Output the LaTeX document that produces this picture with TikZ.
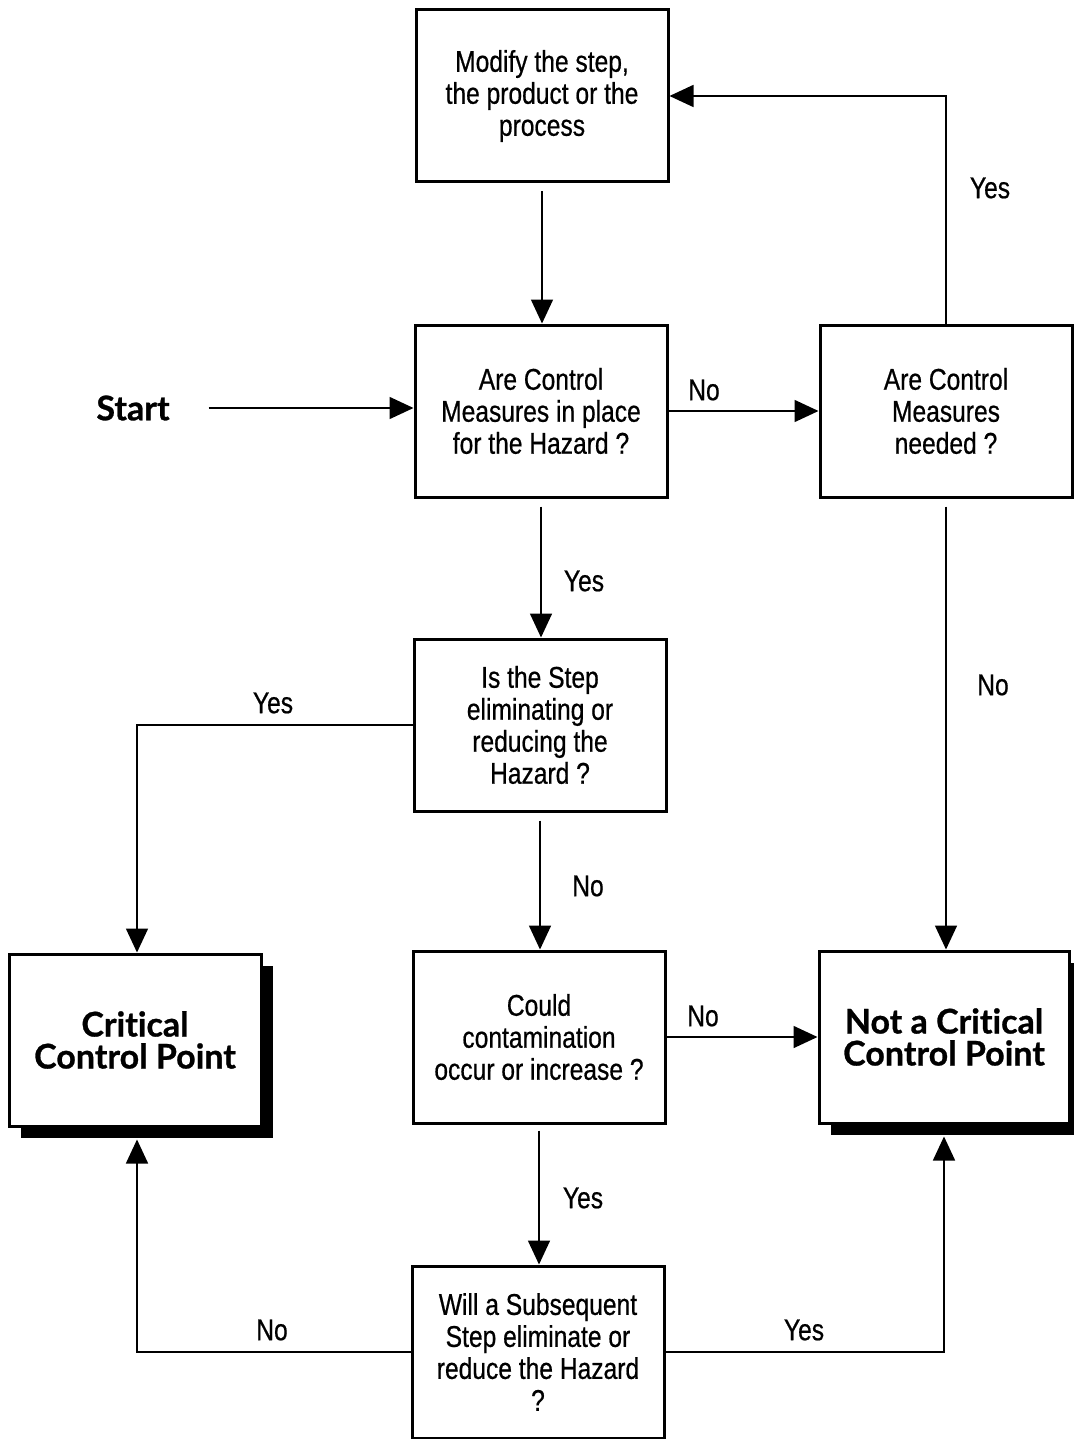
\documentclass[tikz,border=0pt]{standalone}
\usepackage{fontspec}
\setmainfont{Liberation Sans}[FakeStretch=0.82, FakeBold=0.6]
\newfontfamily\titlefont{Lato}[Ligatures=NoCommon, FakeBold=0.8]
\usetikzlibrary{arrows.meta, shadows}

\tikzset{
	stepbox/.style={draw, line width=1.5pt, fill=white, minimum width=126pt, minimum height=86pt,
		align=center, font=\fontsize{15}{16}\selectfont, inner sep=2pt},
	endbox/.style={stepbox, font=\titlefont\bfseries\fontsize{17}{16}\selectfont,
		drop shadow={shadow xshift=6pt, shadow yshift=-6pt, fill=black, opacity=1}},
	lbl/.style={font=\fontsize{15}{16}\selectfont, inner sep=0pt},
	conn/.style={line width=0.8pt, -{Triangle[length=12pt, width=11pt]}},
}

\begin{document}
\begin{tikzpicture}[x=0.5pt, y=-0.5pt]
					\useasboundingbox (0,0) rectangle (1073,1439);

					% boxes
					\begin{scope}
						\node[stepbox] (modify) at (542,96) {Modify the step,\\the product or the\\process\vphantom{p}};
						\node[stepbox] (inplace) at (541,411) {Are Control\\Measures in place\\for the Hazard ?};
						\node[stepbox] (needed) at (946,411) {Are Control\\Measures\\needed ?};
						\node[stepbox] (elim) at (540,725) {Is the Step\\eliminating or\\reducing the\\Hazard ?};
						\node[stepbox] (contam) at (539,1037) {Could\\contamination\\occur or increase ?};
						\node[stepbox] (subseq) at (538,1352) {Will a Subsequent\\Step eliminate or\\reduce the Hazard\\?};
						\node[endbox] (ccp) at (135,1040) {Critical\\Control Point};
						\node[endbox, minimum width=125pt] (notccp) at (944,1037) {Not a Critical\\Control Point};
						\node[font=\titlefont\bfseries\fontsize{17}{16}\selectfont] (start) at (133,408) {Start};
					\end{scope}

					% connectors
					\begin{scope}[conn]
						\draw[shorten <=4pt] (modify.south) -- (modify.south |- inplace.north);
						\draw[shorten <=16pt] (start.east) -- (start.east -| inplace.west);
						\draw (inplace.east) -- (needed.west);
						\draw (needed.north) -- (needed.north |- modify.east) -- (modify.east);
						\draw[shorten <=4pt] (needed.south) -- (needed.south |- notccp.north);
						\draw[shorten <=4pt] (inplace.south) -- (inplace.south |- elim.north);
						\draw (elim.west) -- ([xshift=1pt]ccp.north |- elim.west) -- ([xshift=1pt]ccp.north);
						\draw[shorten <=4pt] (elim.south) -- (elim.south |- contam.north);
						\draw (contam.east) -- (contam.east -| notccp.west);
						\draw[shorten <=3pt] (contam.south) -- (contam.south |- subseq.north);
						\draw (subseq.west) -- ([xshift=1pt]ccp.south |- subseq.west) -- ([xshift=1pt, yshift=-6pt]ccp.south);
						\draw (subseq.east) -- (notccp.south |- subseq.east) -- ([yshift=-6pt]notccp.south);
					\end{scope}

					% labels
					\begin{scope}[lbl]
						\node[lbl] (noA) at (704,390) {No};
						\node[lbl] (yesA) at (990,188) {Yes};
						\node[lbl] (noB) at (993,685) {No};
						\node[lbl] (yesB) at (584,581) {Yes};
						\node[lbl] (yesC) at (273,703) {Yes};
						\node[lbl] (noC) at (588,886) {No};
						\node[lbl] (noD) at (703,1016) {No};
						\node[lbl] (yesD) at (583,1198) {Yes};
						\node[lbl] (noE) at (272,1330) {No};
						\node[lbl] (yesE) at (804,1330) {Yes};
					\end{scope}
				\end{tikzpicture}
\end{document}
